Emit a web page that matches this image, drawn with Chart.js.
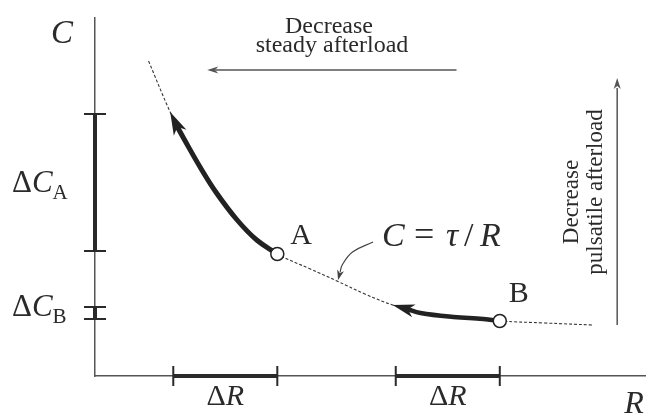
<!DOCTYPE html>
<html>
<head>
<meta charset="utf-8">
<script src="https://cdn.jsdelivr.net/npm/chart.js@4.4.1/dist/chart.umd.min.js"></script>
<style>
body { margin: 0; background: #fff; }
#wrap { width: 646px; height: 417px; }
</style>
</head>
<body>
<div id="wrap"><canvas id="myChart"></canvas></div>
<script>
// C = tau/R curve (R in units of deltaR, C arbitrary)
const curveR = [0.52, 0.73, 0.87, 1.02, 1.18, 1.38, 1.57, 1.77, 2.09, 2.35, 2.62, 2.89, 3.16, 3.48, 3.77, 3.93, 4.37, 4.83];
const curveC = [3.15, 2.64, 2.36, 2.09, 1.83, 1.56, 1.36, 1.22, 1.07, 0.95, 0.82, 0.71, 0.63, 0.59, 0.57, 0.55, 0.53, 0.51];

// thick arrows along the curve
const pathAR = [1.77, 1.57, 1.38, 1.18, 1.02, 0.87, 0.80];
const pathAC = [1.22, 1.36, 1.56, 1.83, 2.09, 2.36, 2.49];
const tipA = [0.73, 2.64];
const pathBR = [3.93, 3.77, 3.48, 3.16, 3.03];
const pathBC = [0.55, 0.57, 0.59, 0.63, 0.67];
const tipB = [2.89, 0.71];

const pointNames = ['A', 'B'];
const pointR = [1.77, 3.93];
const pointC = [1.22, 0.55];

const deltaRStart = [0.76, 2.92];
const deltaREnd = [1.77, 3.93];
const deltaCNames = ['A', 'B'];
const deltaCLow = [1.25, 0.57];
const deltaCHigh = [2.62, 0.69];

// direction arrows
const steadyR = [3.51, 1.17], steadyC = [3.06, 3.06], steadyTip = [1.09, 3.06];
const pulsR = [5.07, 5.07], pulsC = [0.51, 2.88], pulsTip = [5.07, 2.98];
const noteR = [2.70, 2.50, 2.40, 2.38], noteC = [1.34, 1.24, 1.11, 1.04], noteTip = [2.36, 0.96];

const pts = (xs, ys) => xs.map((x, i) => ({ x: x, y: ys[i] }));
const ink = '#222';
const serif = '"Liberation Serif", "DejaVu Serif", serif';

const deltaRPts = [];
deltaRStart.forEach((s, i) => {
    deltaRPts.push({ x: s, y: 0 }, { x: deltaREnd[i], y: 0 }, { x: s, y: null });
});
const deltaCPts = [];
deltaCLow.forEach((lo, i) => {
    deltaCPts.push({ x: 0, y: lo }, { x: 0, y: deltaCHigh[i] }, { x: 0, y: null });
});

const arrowHeads = {
    id: 'arrowHeads',
    afterDatasetsDraw(chart) {
        const ctx = chart.ctx, xs = chart.scales.x, ys = chart.scales.y;
        chart.data.datasets.forEach(ds => {
            if (!ds.tip) return;
            const last = ds.data[ds.data.length - 1];
            const bx = xs.getPixelForValue(last.x), by = ys.getPixelForValue(last.y);
            const tx = xs.getPixelForValue(ds.tip[0]), ty = ys.getPixelForValue(ds.tip[1]);
            let dx = tx - bx, dy = ty - by;
            const d = Math.hypot(dx, dy);
            dx /= d; dy /= d;
            const L = ds.headLen, W = ds.headHalf;
            ctx.save();
            ctx.fillStyle = ds.borderColor;
            ctx.beginPath();
            ctx.moveTo(tx, ty);
            ctx.lineTo(tx - dx * L - dy * W, ty - dy * L + dx * W);
            ctx.lineTo(tx - dx * L * 0.72, ty - dy * L * 0.72);
            ctx.lineTo(tx - dx * L + dy * W, ty - dy * L - dx * W);
            ctx.closePath();
            ctx.fill();
            ctx.restore();
        });
    }
};

// draws text pieces one after another; a piece may carry [text, font, dy, gapBefore]
function runs(ctx, parts, x, y, align) {
    let w = 0;
    parts.forEach(p => { ctx.font = p[1]; w += ctx.measureText(p[0]).width + (p[3] || 0); });
    let cx = align === 'center' ? x - w / 2 : (align === 'right' ? x - w : x);
    parts.forEach(p => {
        ctx.font = p[1];
        cx += p[3] || 0;
        ctx.fillText(p[0], cx, y + (p[2] || 0));
        cx += ctx.measureText(p[0]).width;
    });
}

const labels = {
    id: 'labels',
    afterDraw(chart) {
        const ctx = chart.ctx, xs = chart.scales.x, ys = chart.scales.y;
        const it = s => 'italic ' + s + 'px ' + serif;
        const up = s => s + 'px ' + serif;
        ctx.save();
        ctx.fillStyle = '#2a2a2a';
        ctx.textBaseline = 'alphabetic';
        ctx.textAlign = 'left';
        // axis names
        runs(ctx, [['C', it(33)]], 62, 43, 'center');
        runs(ctx, [['R', it(32)]], 634, 413, 'center');
        // point names
        pointNames.forEach((n, i) => {
            const px = xs.getPixelForValue(pointR[i]), py = ys.getPixelForValue(pointC[i]);
            if (i === 0) runs(ctx, [[n, up(30)]], px + 13, py - 10, 'left');
            else runs(ctx, [[n, up(30)]], px + 9, py - 19, 'left');
        });
        // curve formula
        ctx.font = it(34); ctx.fillText('C', 382, 246);
        ctx.font = up(36); ctx.fillText('=', 414, 246);
        ctx.font = it(34); ctx.fillText('τ', 446, 246);
        ctx.font = up(34); ctx.fillText('/', 464, 246);
        ctx.font = it(34); ctx.fillText('R', 480, 246);
        // delta R labels
        deltaRStart.forEach((s, i) => {
            const mx = (xs.getPixelForValue(s) + xs.getPixelForValue(deltaREnd[i])) / 2;
            runs(ctx, [['Δ', up(30)], ['R', it(30)]], mx, ys.getPixelForValue(0) + 29, 'center');
        });
        // delta C labels
        const cBase = [192, 316];
        deltaCNames.forEach((n, i) => {
            runs(ctx, [['Δ', up(31)], ['C', it(31)], [n, up(21), 7]], 12, cBase[i], 'left');
        });
        // direction captions
        runs(ctx, [['Decrease', up(24)]], 329, 33, 'center');
        runs(ctx, [['steady afterload', up(24)]], 332, 52, 'center');
        ctx.translate(578, 202);
        ctx.rotate(-Math.PI / 2);
        runs(ctx, [['Decrease', up(23)]], 0, 0, 'center');
        ctx.rotate(Math.PI / 2);
        ctx.translate(24, -10);
        ctx.rotate(-Math.PI / 2);
        runs(ctx, [['pulsatile afterload', up(23)]], 0, 0, 'center');
        ctx.restore();
    }
};

const datasets = [
    { data: pts(curveR, curveC), borderColor: '#333', borderWidth: 1.1, borderDash: [3, 2], tension: 0.4, order: 5 },
    { data: pts(pathAR, pathAC), borderColor: ink, borderWidth: 5, tension: 0.4, tip: tipA, headLen: 23, headHalf: 7, order: 2 },
    { data: pts(pathBR, pathBC), borderColor: ink, borderWidth: 4.5, tension: 0.4, tip: tipB, headLen: 22, headHalf: 6.5, order: 2 },
    { data: pts(pointR, pointC), showLine: false, pointRadius: 6.5, pointBackgroundColor: '#fff', pointBorderColor: ink, pointBorderWidth: 1.5, order: 0 },
    { data: deltaRPts, borderColor: '#2a2a2a', borderWidth: 4, pointStyle: 'line', pointRotation: 90, pointRadius: 10, pointBorderWidth: 2, pointBorderColor: '#2a2a2a', spanGaps: false, order: 3 },
    { data: deltaCPts, borderColor: '#2a2a2a', borderWidth: 4, pointStyle: 'line', pointRotation: 0, pointRadius: 11, pointBorderWidth: 2, pointBorderColor: '#2a2a2a', spanGaps: false, order: 3 },
    { data: pts(steadyR, steadyC), borderColor: '#555', borderWidth: 1.5, tip: steadyTip, headLen: 11, headHalf: 3.5, order: 4 },
    { data: pts(pulsR, pulsC), borderColor: '#555', borderWidth: 1.5, tip: pulsTip, headLen: 11, headHalf: 3.5, order: 4 },
    { data: pts(noteR, noteC), borderColor: '#444', borderWidth: 1.2, tension: 0.4, tip: noteTip, headLen: 10, headHalf: 3.5, order: 4 }
].map(ds => Object.assign({ showLine: true, pointRadius: 0, clip: false, fill: false }, ds));

const noAxis = {
    type: 'linear',
    display: true,
    grid: { display: false, drawTicks: false },
    ticks: { display: false },
    border: { display: true, color: '#555', width: 1.5 }
};

new Chart(document.getElementById('myChart').getContext('2d'), {
    type: 'scatter',
    data: { datasets: datasets },
    options: {
        responsive: true,
        maintainAspectRatio: false,
        animation: false,
        layout: { autoPadding: false, padding: { left: 95, top: 18, right: 1, bottom: 41 } },
        plugins: { legend: { display: false }, tooltip: { enabled: false } },
        scales: {
            x: Object.assign({}, noAxis, { min: 0, max: 5.34, afterFit: s => { s.height = 0; } }),
            y: Object.assign({}, noAxis, { min: 0, max: 3.58, afterFit: s => { s.width = 0; } })
        }
    },
    plugins: [arrowHeads, labels]
});
</script>
</body>
</html>
